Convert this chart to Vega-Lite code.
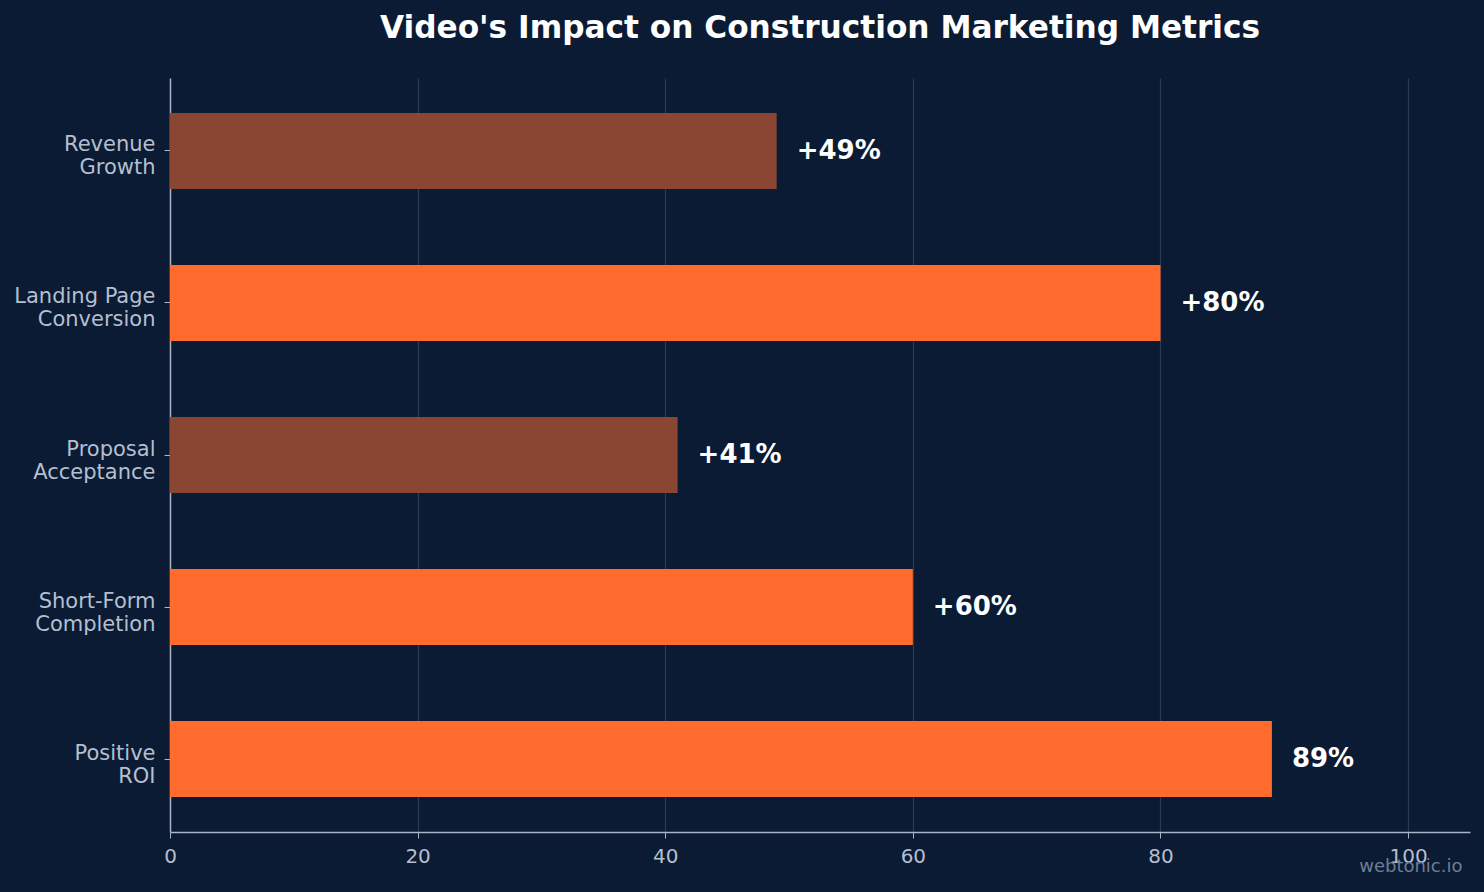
{
  "$schema": "https://vega.github.io/schema/vega-lite/v6.json",
  "width": 1300,
  "height": 754,
  "autosize": {"type": "none"},
  "padding": {"left": 170, "top": 78, "right": 14, "bottom": 60},
  "background": "#0B1B34",
  "title": {
    "text": "Video's Impact on Construction Marketing Metrics",
    "font": "DejaVu Sans",
    "fontSize": 31.2,
    "fontWeight": "bold",
    "color": "#FFFFFF",
    "anchor": "middle",
    "offset": 34
  },
  "config": {
    "view": {"stroke": null},
    "font": "DejaVu Sans"
  },
  "data": {
    "values": [
      {"metric": "Revenue\nGrowth", "value": 49, "label": "+49%", "group": "dim"},
      {"metric": "Landing Page\nConversion", "value": 80, "label": "+80%", "group": "bright"},
      {"metric": "Proposal\nAcceptance", "value": 41, "label": "+41%", "group": "dim"},
      {"metric": "Short-Form\nCompletion", "value": 60, "label": "+60%", "group": "bright"},
      {"metric": "Positive\nROI", "value": 89, "label": "89%", "group": "bright"}
    ]
  },
  "encoding": {
    "y": {
      "field": "metric",
      "type": "nominal",
      "sort": null,
      "scale": {"paddingInner": 0.5, "paddingOuter": 0.23},
      "axis": {
        "title": null,
        "labelExpr": "split(datum.label, '\\n')",
        "labelFont": "DejaVu Sans",
        "labelFontSize": 21,
        "labelColor": "#B4BFD0",
        "labelLineHeight": 23,
        "labelBaseline": "middle",
        "labelOffset": -5.5,
        "labelPadding": 9,
        "tickColor": "#A9B4C6",
        "tickSize": 6,
        "domainColor": "#A9B4C6",
        "domainWidth": 1.5,
        "grid": false
      }
    },
    "x": {
      "field": "value",
      "type": "quantitative",
      "scale": {"domain": [0, 105], "nice": false},
      "axis": {
        "values": [0, 20, 40, 60, 80, 100],
        "labelFlush": false,
        "title": "webtonic.io",
        "titleFont": "DejaVu Sans",
        "titleFontSize": 18,
        "titleFontWeight": "normal",
        "titleColor": "#6E7D95",
        "titleAnchor": "end",
        "titleAlign": "right",
        "titleBaseline": "middle",
        "titleX": 1292,
        "titleY": 34,
        "labelFont": "DejaVu Sans",
        "labelFontSize": 20,
        "labelColor": "#B4BFD0",
        "labelPadding": 8,
        "tickColor": "#A9B4C6",
        "tickSize": 6,
        "domainColor": "#A9B4C6",
        "domainWidth": 1.5,
        "grid": true,
        "gridColor": "#2C3B55",
        "gridWidth": 1.2
      }
    }
  },
  "layer": [
    {
      "mark": {"type": "bar"},
      "encoding": {
        "color": {
          "field": "group",
          "type": "nominal",
          "scale": {"domain": ["bright", "dim"], "range": ["#FF6B2C", "#8A4633"]},
          "legend": null
        }
      }
    },
    {
      "mark": {
        "type": "text",
        "align": "left",
        "baseline": "middle",
        "dx": 20,
        "font": "DejaVu Sans",
        "fontSize": 26,
        "fontWeight": "bold",
        "color": "#FFFFFF"
      },
      "encoding": {
        "text": {"field": "label"}
      }
    }
  ]
}
